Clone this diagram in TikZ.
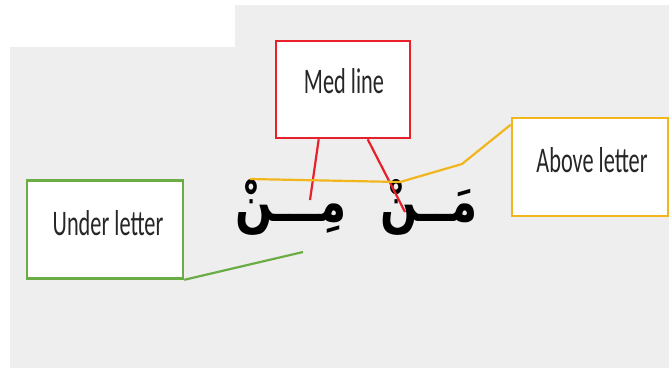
\documentclass[tikz,border=0pt]{standalone}
\usepackage{fontspec}
\setmainfont{Carlito}
\newfontfamily\lblfont[FakeStretch=0.62]{Carlito}
\newfontfamily\arabicfont[Script=Arabic, FakeStretch=0.77]{DejaVu Sans}
\TeXXeTstate=1
\usetikzlibrary{calc}
\definecolor{bggray}{HTML}{EEEEEE}
\definecolor{medred}{HTML}{E8202A}
\definecolor{abyellow}{HTML}{F2B51C}
\definecolor{ungreen}{HTML}{6AAD45}
\tikzset{
  labelbox/.style={draw, line width=2.6pt, fill=white, inner sep=0pt},
  labeltext/.style={inner sep=0pt, text=black!85, font=\lblfont\fontsize{36}{36}\selectfont},
  arabword/.style={inner sep=0pt, font=\arabicfont\bfseries\fontsize{57}{57}\selectfont},
  conn/.style={line width=2.2pt}
}
\begin{document}
\begin{tikzpicture}[x=1pt,y=-1pt]
\useasboundingbox (0,0) rectangle (669,368);
\fill[bggray] (10,47) -- (235,47) -- (235,5) -- (669,5) -- (669,368) -- (10,368) -- cycle;
% boxes
\node[labelbox, draw=medred, minimum width=134pt, minimum height=97pt] (med) at (343,89.5) {};
\node[labeltext] (medt) at (344,81) {Med line};
\node[labelbox, draw=abyellow, minimum width=156pt, minimum height=98pt] (above) at (590,167) {};
\node[labeltext] (abovet) at (592,160) {Above letter};
\node[labelbox, draw=ungreen, minimum width=156pt, minimum height=98pt] (under) at (105,229.5) {};
\node[labeltext] (undert) at (108,223) {Under letter};
% arabic words
\node[arabword, anchor=base] (w1) at (291,221) {\beginR مِـــنْ\endR};
\node[arabword, anchor=base] (w2) at (429,221) {\beginR مَــنْ\endR};
% connector points
\coordinate (r1) at (310,200);
\coordinate (r2) at (405,212);
\coordinate (y1) at (250,179);
\coordinate (y2) at (400,182);
\coordinate (y3) at (462,164);
\coordinate (g1) at (303,252);
% connectors
\draw[conn, medred] ($(med.south west)+(44,0)$) -- (r1);
\draw[conn, medred] ($(med.south west)+(93,0)$) -- (r2);
\draw[conn, abyellow] (y1) -- (y2) -- (y3) -- ($(above.north west)+(0,8)$);
\draw[conn, ungreen] (under.south east) -- (g1);
\end{tikzpicture}
\end{document}
